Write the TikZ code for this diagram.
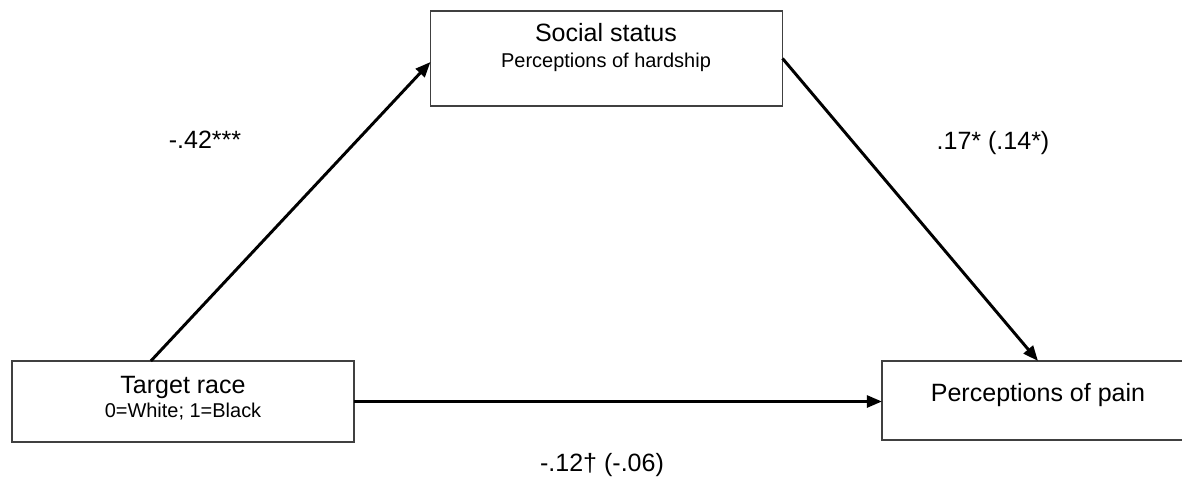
\documentclass[tikz,border=0pt]{standalone}
\usepackage{fontspec}
\setmainfont{Liberation Sans}
\usetikzlibrary{arrows.meta,calc}
\begin{document}
\begin{tikzpicture}[x=0.025cm,y=-0.025cm,
  boxstyle/.style={draw=black!75,line width=1.3pt,inner sep=0pt,outer sep=0pt},
  mainlbl/.style={font=\fontsize{17.8pt}{20pt}\selectfont,inner sep=0pt},
  sublbl/.style={font=\fontsize{14.2pt}{16pt}\selectfont,inner sep=0pt},
  pathlbl/.style={font=\fontsize{17.8pt}{20pt}\selectfont,inner sep=0pt},
  arr/.style={line width=2.1pt,-{Triangle[length=0.38cm,width=0.3cm]}}]
\useasboundingbox (0,0) rectangle (1182,480);
\clip (0,0) rectangle (1182,480);
% boxes
\node[boxstyle,minimum width=8.8cm,minimum height=2.375cm] (status) at (606.5,58.5) {};
\node[boxstyle,minimum width=8.55cm,minimum height=2.025cm] (race) at (183,401.5) {};
\node[boxstyle,minimum width=7.8cm,minimum height=1.975cm] (pain) at (1038,400.5) {};
% box texts
\node[mainlbl] (t1) at (606,33) {Social status};
\node[sublbl] (t2) at (606,62) {Perceptions of hardship};
\node[mainlbl] (t3) at (183,387) {Target race};
\node[sublbl] (t4) at (183,412) {0=White; 1=Black};
\node[mainlbl] (t5) at (1038,395) {Perceptions of pain};
% connectors
\coordinate (a1) at ($(race.north west)!0.406!(race.north east)$);
\coordinate (a2) at ($(status.north west)!0.537!(status.south west)$);
\draw[arr] (a1) -- (a2);
\draw[arr] (status.east) -- (pain.north);
\draw[arr] (race.east) -- (race.east -| pain.west);
% path labels
\node[pathlbl] (l1) at (205,140) {-.42***};
\node[pathlbl] (l2) at (993,143) {.17* (.14*)};
\node[pathlbl] (l3) at (602,465) {-.12† (-.06)};
\end{tikzpicture}
\end{document}
